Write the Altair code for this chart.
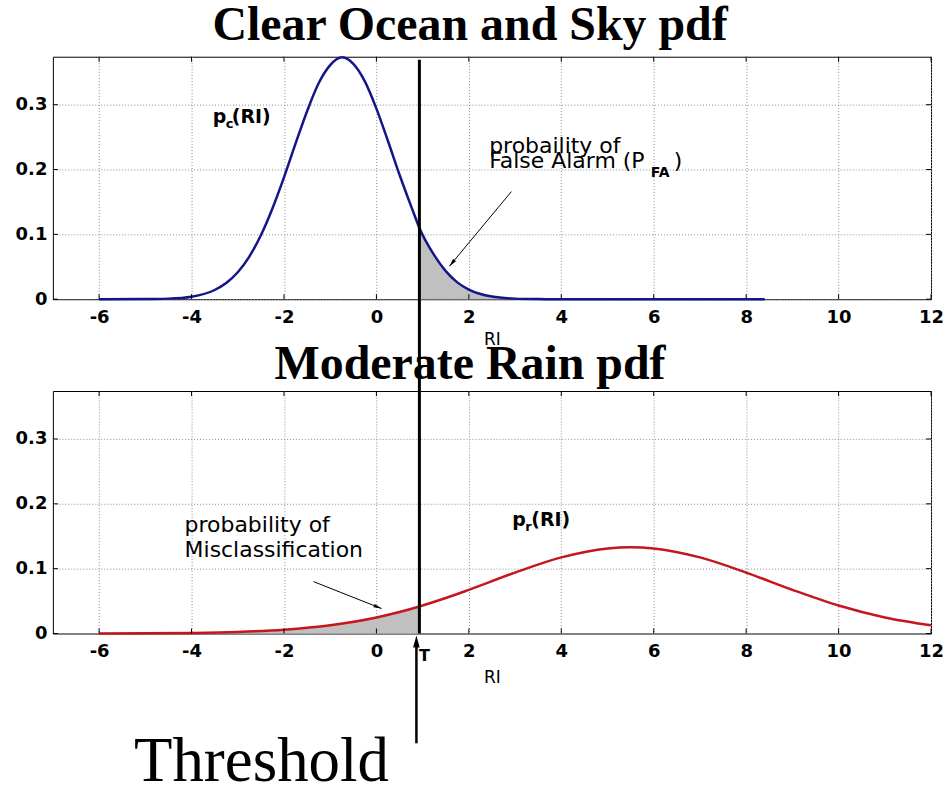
import altair as alt
import pandas as pd

# ---- data -------------------------------------------------------------
# p_c(RI): clear ocean and sky pdf
ri_clear = [-6, -5, -4.5, -4, -3.5, -3.25, -3, -2.75, -2.5, -2.25,
            -2, -1.75, -1.5, -1.25, -1, -0.74, -0.5, -0.25, 0, 0.25,
            0.5, 0.75, 0.93, 1.25, 1.5, 1.75, 2, 2.5, 3, 3.5,
            4, 5, 6, 7, 8, 8.4]
pdf_clear = [0.0, 0.0002, 0.0009, 0.0039, 0.0142, 0.025, 0.0416, 0.0658, 0.0986, 0.140,
             0.188, 0.240, 0.290, 0.333, 0.361, 0.373, 0.363, 0.336, 0.294, 0.244,
             0.192, 0.1436, 0.110, 0.068, 0.0433, 0.026, 0.0149, 0.0041, 0.0009, 0.0002,
             0.0, 0.0, 0.0, 0.0, 0.0, 0.0]

# p_r(RI): moderate rain pdf
ri_rain = [-6, -5, -4, -3, -2, -1, 0, 0.5, 0.93, 1.5, 2,
           3, 4, 5, 5.5, 6, 7, 8, 9, 10, 11, 12]
pdf_rain = [0.0001, 0.0003, 0.0009, 0.0024, 0.0058, 0.0127, 0.0248, 0.0332, 0.0417, 0.0547, 0.0674,
            0.094, 0.1174, 0.1312, 0.133, 0.1312, 0.1174, 0.094, 0.0674, 0.0432, 0.0248, 0.0127]

threshold = 0.93
x_ticks = [-6, -4, -2, 0, 2, 4, 6, 8, 10, 12]
y_ticks = [0, 0.1, 0.2, 0.3]

# ---- layout constants ---------------------------------------------------
W, H = 880, 243
xs = alt.Scale(domain=[-7, 12], nice=False, zero=False)
ys = alt.Scale(domain=[0, 0.374], nice=False, zero=False)
FONT = "DejaVu Sans"
SERIF = "Liberation Serif"

clear_df = pd.DataFrame({"ri": ri_clear, "pdf": pdf_clear})
rain_df = pd.DataFrame({"ri": ri_rain, "pdf": pdf_rain})
xt_df = pd.DataFrame({"v": x_ticks})
yt_df = pd.DataFrame({"v": y_ticks})
thr_df = pd.DataFrame({"t": [threshold]})

Y_AXIS = alt.Axis(values=y_ticks, title=None, grid=True, labelPadding=6,
                  labelFlush=False, labelOverlap=False, labelExpr="'' + datum.value")


def make_x_axis(title_pad):
    return alt.Axis(values=x_ticks, title="RI", titlePadding=title_pad, grid=True,
                    labelPadding=9, labelFlush=False, labelOverlap=False,
                    labelExpr="datum.value < 0 ? '-' + abs(datum.value) : '' + datum.value")


def build_panel(title_pad):
    """Return encoding helpers that share one axis definition per panel."""
    x_ax = make_x_axis(title_pad)

    def X(field):
        return alt.X(field, type="quantitative", scale=xs, axis=x_ax)

    def Y(field):
        return alt.Y(field, type="quantitative", scale=ys, axis=Y_AXIS)

    def frame_ticks():
        # inward tick marks on all four sides of the box
        bx = alt.Chart(xt_df).mark_rule(color="black", strokeWidth=1).encode(
            x=X("v"), y=alt.value(H), y2=alt.value(H - 5))
        tx = alt.Chart(xt_df).mark_rule(color="black", strokeWidth=1).encode(
            x=X("v"), y=alt.value(0), y2=alt.value(5))
        ly = alt.Chart(yt_df).mark_rule(color="black", strokeWidth=1).encode(
            y=Y("v"), x=alt.value(0), x2=alt.value(5))
        ry = alt.Chart(yt_df).mark_rule(color="black", strokeWidth=1).encode(
            y=Y("v"), x=alt.value(W - 5), x2=alt.value(W))
        return [bx, tx, ly, ry]

    def label(text, x, y, size=22, weight="normal", dx=0, dy=0):
        d = pd.DataFrame({"x": [x], "y": [y], "s": [text]})
        return alt.Chart(d).mark_text(font=FONT, fontSize=size, fontWeight=weight,
                                      align="left", baseline="alphabetic", dx=dx, dy=dy,
                                      color="black").encode(x=X("x"), y=Y("y"), text="s:N")

    def pointer(x1, y1, x2, y2, angle):
        d = pd.DataFrame({"x1": [x1], "y1": [y1], "x2": [x2], "y2": [y2]})
        shaft = alt.Chart(d).mark_rule(color="black", strokeWidth=1).encode(
            x=X("x1"), y=Y("y1"), x2="x2", y2="y2")
        head = alt.Chart(d).mark_point(shape="M0,0L0.45,2L-0.45,2Z", filled=True, size=64,
                                       color="black", opacity=1, angle=angle).encode(
            x=X("x2"), y=Y("y2"))
        return [shaft, head]

    return X, Y, frame_ticks, label, pointer


def panel_title(text, y):
    d = pd.DataFrame({"s": [text]})
    return alt.Chart(d).mark_text(font=SERIF, fontSize=48, fontWeight="bold",
                                  align="center", baseline="alphabetic", color="black").encode(
        x=alt.value(418), y=alt.value(y), text="s:N")


# ---- top panel: clear ocean and sky ------------------------------------
X, Y, frame_ticks, label, pointer = build_panel(5)

top_fill = alt.Chart(clear_df).transform_filter(f"datum.ri >= {threshold}").mark_area(
    color="#c0c0c0", opacity=1, interpolate="monotone").encode(x=X("ri"), y=Y("pdf"))
top_line = alt.Chart(clear_df).mark_line(color="#15158a", strokeWidth=2.5,
                                         interpolate="monotone").encode(x=X("ri"), y=Y("pdf"))

top = alt.layer(
    top_fill, top_line, *frame_ticks(),
    label("p", -3.54, 0.272, 19, "bold"),
    label("c", -3.54, 0.272, 13, "bold", dx=13, dy=5),
    label("(RI)", -3.54, 0.272, 19, "bold", dx=19),
    label("probaility of", 2.44, 0.226),
    label("False Alarm (P", 2.44, 0.203),
    label("FA", 2.44, 0.203, 14, "bold", dx=162, dy=9),
    label(")", 2.44, 0.203, dx=185),
    *pointer(2.92, 0.166, 1.58, 0.051, 220),
    panel_title("Clear Ocean and Sky pdf", -17),
).properties(width=W, height=H)

# ---- bottom panel: moderate rain ---------------------------------------
X, Y, frame_ticks, label, pointer = build_panel(9)

bot_fill = alt.Chart(rain_df).transform_filter(f"datum.ri <= {threshold}").mark_area(
    color="#c0c0c0", opacity=1, interpolate="monotone").encode(x=X("ri"), y=Y("pdf"))
bot_line = alt.Chart(rain_df).mark_line(color="#c4161c", strokeWidth=2.5,
                                        interpolate="monotone").encode(x=X("ri"), y=Y("pdf"))

# threshold line runs from the top box down through the rain box
thr_line = alt.Chart(thr_df).mark_rule(color="black", strokeWidth=3).encode(
    x=X("t"), y=alt.value(-332), y2=alt.value(H))
arrow_shaft = alt.Chart(thr_df).mark_rule(color="black", strokeWidth=2.5).encode(
    x=X("t"), y=alt.value(256), y2=alt.value(353), xOffset=alt.value(-3))
arrow_head = alt.Chart(thr_df).mark_point(shape="M0,0L0.55,2L-0.55,2Z", filled=True,
                                          size=144, color="black", opacity=1).encode(
    x=X("t"), y=alt.value(245), xOffset=alt.value(-3))
t_label = alt.Chart(thr_df).mark_text(font=FONT, fontSize=16, fontWeight="bold",
                                      align="center", baseline="alphabetic",
                                      color="black").encode(
    x=X("t"), y=alt.value(271), text=alt.value("T"), xOffset=alt.value(5))
thr_text = alt.Chart(thr_df).mark_text(font=SERIF, fontSize=63, align="center",
                                       baseline="alphabetic", color="black").encode(
    x=alt.value(209), y=alt.value(391), text=alt.value("Threshold"))

bottom = alt.layer(
    bot_fill, bot_line, *frame_ticks(),
    label("p", 2.94, 0.166, 19, "bold"),
    label("r", 2.94, 0.166, 13, "bold", dx=13, dy=5),
    label("(RI)", 2.94, 0.166, 19, "bold", dx=19),
    label("probability of", -4.15, 0.157),
    label("Misclassification", -4.15, 0.118),
    *pointer(-1.36, 0.08, 0.11, 0.0385, 112),
    panel_title("Moderate Rain pdf", -12),
    thr_line, arrow_shaft, arrow_head, t_label, thr_text,
).properties(width=W, height=H)

chart = alt.vconcat(top, bottom, spacing=92, bounds="flush").properties(
    padding={"left": 14, "top": 0, "right": 0, "bottom": 0},
    background="white",
).configure_view(stroke="black", strokeWidth=1).configure_axis(
    labelFont=FONT, labelFontSize=18, labelFontWeight="bold", labelColor="black",
    titleFont=FONT, titleFontSize=17, titleFontWeight="normal", titleColor="black",
    gridColor="#8c8c8c", gridDash=[1, 2], gridWidth=1, gridOpacity=1,
    ticks=False, domain=False,
)

chart.save("out.html", embed_options={"renderer": "svg", "actions": False})
